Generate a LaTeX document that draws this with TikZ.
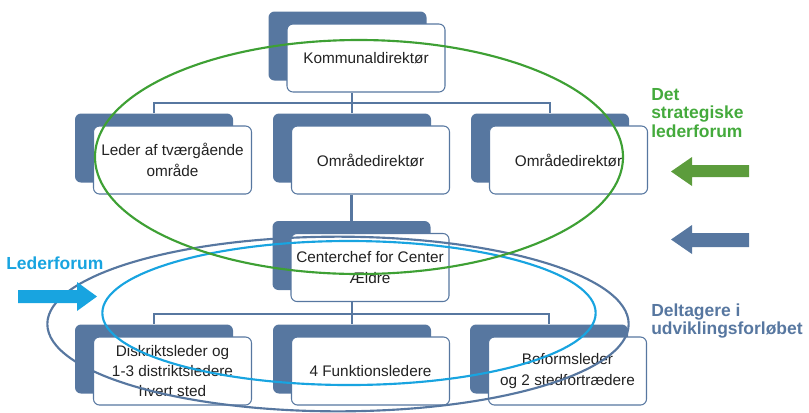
\documentclass[tikz,border=0pt]{standalone}
\usepackage{fontspec}
\setmainfont{Liberation Sans}
\usepackage{tikz}
\usetikzlibrary{positioning}
\definecolor{org-blue}{RGB}{87,119,160}
\definecolor{forum-green}{RGB}{62,160,52}
\definecolor{label-green}{RGB}{68,170,60}
\definecolor{arrow-green}{RGB}{92,156,60}
\definecolor{forum-cyan}{RGB}{24,164,224}
\definecolor{text-gray}{RGB}{34,34,34}

\begin{document}
\begin{tikzpicture}[x=0.75pt, y=-0.75pt]
				\tikzset{back/.style={rectangle, fill=org-blue, rounded corners=4.5pt, minimum width=118.5pt, minimum height=51.75pt}}
				\tikzset{front/.style={rectangle, draw=org-blue, line width=0.8pt, fill=white, rounded corners=4.5pt, minimum width=118.5pt, minimum height=51pt, align=center, text=text-gray, font=\fontsize{11.5}{15.3}\selectfont}}
				\tikzset{link/.style={draw=org-blue, line width=1.6pt}}
				\tikzset{forum/.style={line width=1.6pt}}
				\tikzset{tag/.style={anchor=west, inner sep=0, align=left, font=\bfseries\fontsize{13.1}{14}\selectfont}}
				\useasboundingbox (0,0) rectangle (809,412);
				\foreach \name/\x/\y/\txt in {kom/366/58/Kommunaldirektør,
					lead/172.5/160/{Leder af tværgående\\område},
					omr1/370.5/160/Områdedirektør,
					omr2/568.5/160/Områdedirektør,
					center/370/267.5/{Centerchef for Center\\Ældre},
					dist/172.5/371/{Diskriktsleder og\\1-3 distriktsledere\\hvert sted},
					funk/370.5/371/4 Funktionsledere,
					bof/567.5/371/{Boformsleder\\og 2 stedfortrædere}}{
					\node[back] (\name-b) at (\x-18.5,\y-12) {};
					\node[front] (\name) at (\x,\y) {\txt};
				}
				\coordinate (bus top) at (0,103);
				\coordinate (bus low) at (0,314);
				\draw[link] (lead-b.north) |- (bus top -| omr2-b.north) -- (omr2-b.north);
				\draw[link] (omr1-b.north) -- (omr1-b.north |- kom.south);
				\draw[link] (center-b.north) -- (center-b.north |- omr1.south);
				\draw[link] (dist-b.north) |- (bus low -| bof-b.north) -- (bof-b.north);
				\draw[link] (funk-b.north) -- (funk-b.north |- center.south);
				\draw[forum, draw=org-blue] (338,324) ellipse [x radius=218pt, y radius=65.5pt];
				\draw[forum, draw=forum-cyan] (349,313) ellipse [x radius=185pt, y radius=54pt];
				\draw[forum, draw=forum-green] (359,157) ellipse [x radius=198pt, y radius=87.75pt];
				\node[tag, text=label-green] (strat) at (651,113) {Det\\strategiske\\lederforum};
				\node[tag, text=org-blue] (delt) at (651,321) {Deltagere i\\udviklingsforløbet};
				\node[tag, text=forum-cyan] (leder) at (6,263) {Lederforum};
				\fill[arrow-green] (749,165) -- ++(-57,0) -- ++(0,-8) -- ++(-21,14.5) -- ++(21,14.5) -- ++(0,-9) -- ++(57,0) -- cycle;
				\fill[org-blue] (749,233) -- ++(-57,0) -- ++(0,-8) -- ++(-21,14.5) -- ++(21,14.5) -- ++(0,-7) -- ++(57,0) -- cycle;
				\fill[forum-cyan] (18,290) -- ++(59,0) -- ++(0,-8) -- ++(20,14.5) -- ++(-20,14.5) -- ++(0,-8) -- ++(-59,0) -- cycle;
\end{tikzpicture}
\end{document}
